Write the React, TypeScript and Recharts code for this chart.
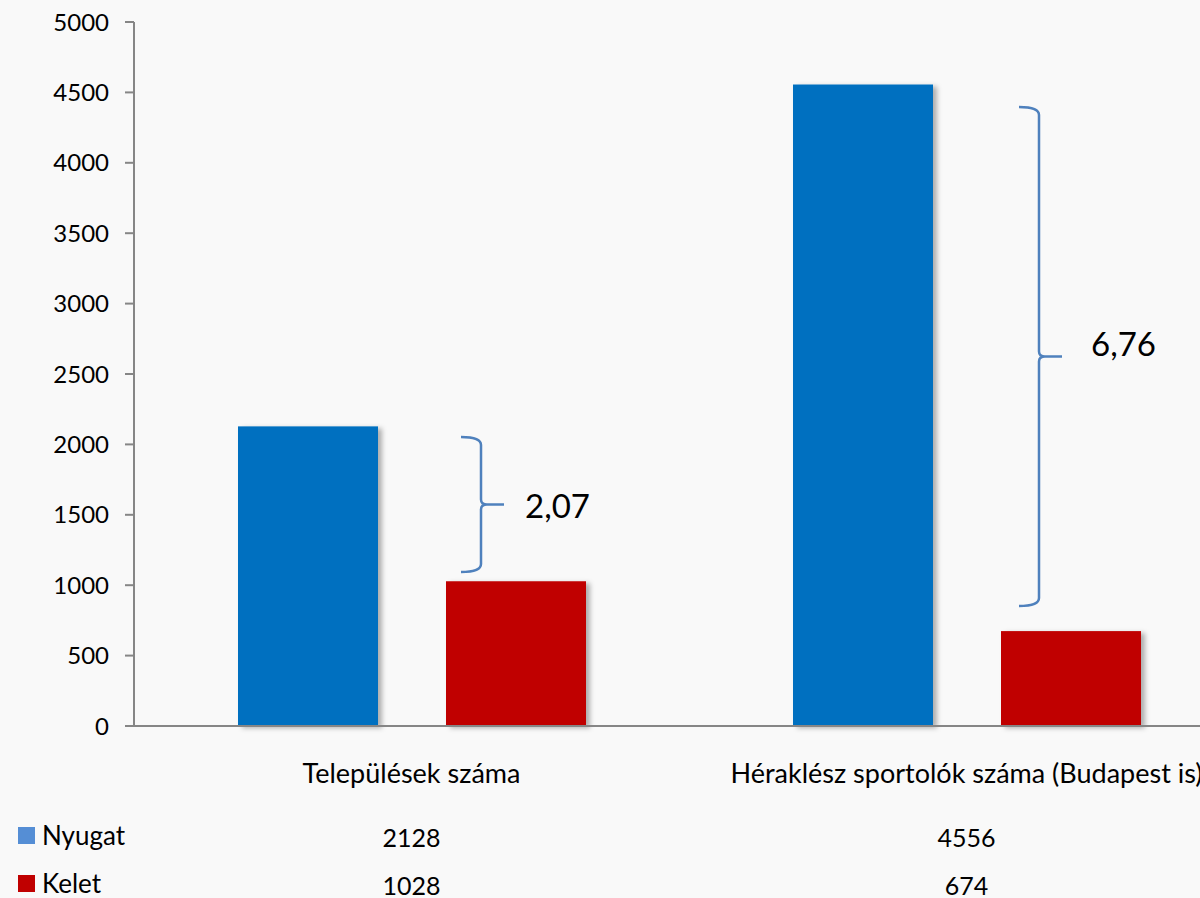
import { BarChart, Bar, XAxis, YAxis, ReferenceArea } from 'recharts'

const categories = ['Települések száma', 'Héraklész sportolók száma (Budapest is)']
const nyugat = [2128, 4556]
const kelet = [1028, 674]
const ratios = ['2,07', '6,76']
const braceLow = [1094, 852]
const braceHigh = [2052, 4396]
const yTicks = [0, 500, 1000, 1500, 2000, 2500, 3000, 3500, 4000, 4500, 5000]

const FONT = 'Lato, "Open Sans", sans-serif'
const BLUE = '#0070C0'
const RED = '#C00000'

const chartData = categories.map((name, i) => ({ name, Nyugat: nyugat[i], Kelet: kelet[i] }))

function CatTick(props: any) {
  const { x, y, payload, index } = props
  return (
    <g fontFamily={FONT} fill="#000">
      <text x={x} y={y + 46} fontSize={27} textAnchor="middle" dominantBaseline="central" fill="#000">{payload.value}</text>
      <text x={x} y={y + 111} fontSize={25} textAnchor="middle" dominantBaseline="central" fill="#000">{nyugat[index]}</text>
      <text x={x} y={y + 159} fontSize={25} textAnchor="middle" dominantBaseline="central" fill="#000">{kelet[index]}</text>
    </g>
  )
}

function Brace(props: any) {
  const { x, y, height, label, index } = props
  const x0 = x + 347 + index * 3
  const yt = y
  const yb = y + height
  const ym = (yt + yb) / 2
  const d = `M ${x0 - 20} ${yt} Q ${x0} ${yt} ${x0} ${yt + 8} L ${x0} ${ym - 5} Q ${x0} ${ym} ${x0 + 6} ${ym} L ${x0 + 23} ${ym} M ${x0 + 6} ${ym} Q ${x0} ${ym} ${x0} ${ym + 5} L ${x0} ${yb - 8} Q ${x0} ${yb} ${x0 - 20} ${yb}`
  return (
    <g>
      <path d={d} fill="none" stroke="#4F81BD" strokeWidth={2.5} />
      <text x={x0 + 44 + index * 8} y={ym - index * 14} dominantBaseline="central" fontFamily={FONT} fontSize={33} fill="#000">{label}</text>
    </g>
  )
}

const ShadowBar = (props: any) => {
  const { x, y, width, height, fill } = props
  return <rect x={x} y={y} width={width} height={height} fill={fill} filter="url(#barShadow)" />
}

const legendRow = { position: 'absolute' as const, left: 18, display: 'flex', alignItems: 'center', height: 17, lineHeight: '17px', fontFamily: FONT, fontSize: 26 }

export default function App() {
  return (
    <div style={{ position: 'absolute', left: 0, top: 0, width: 1200, height: 898, overflow: 'hidden', background: '#f9f9f9' }}>
      <svg width={0} height={0} style={{ position: 'absolute' }}>
        <defs>
          <filter id="barShadow" x="-10%" y="-10%" width="130%" height="120%">
            <feDropShadow dx={4} dy={2} stdDeviation={2.5} floodColor="#000" floodOpacity={0.3} />
          </filter>
        </defs>
      </svg>
      <BarChart width={1260} height={898} data={chartData} barSize={140} barGap={68}
        margin={{ top: 22, right: 16, left: 0, bottom: 0 }}>
        <XAxis dataKey="name" height={172} tickLine={false} tickSize={0} tickMargin={0}
          axisLine={{ stroke: '#868686', strokeWidth: 2 }} tick={(p: any) => <CatTick {...p} />} interval={0} />
        <YAxis width={134} domain={[0, 5000]} ticks={yTicks} tickSize={9} tickMargin={16}
          axisLine={{ stroke: '#868686', strokeWidth: 2 }} tickLine={{ stroke: '#868686', strokeWidth: 2 }}
          tick={{ fontFamily: FONT, fontSize: 24, fill: '#000' }} />
        <Bar dataKey="Nyugat" fill={BLUE} shape={ShadowBar} isAnimationActive={false} />
        <Bar dataKey="Kelet" fill={RED} shape={ShadowBar} isAnimationActive={false} />
        {categories.map((c, i) => (
          <ReferenceArea key={c} x1={c} x2={c} y1={braceLow[i]} y2={braceHigh[i]}
            shape={(p: any) => <Brace {...p} label={ratios[i]} index={i} />} />
        ))}
      </BarChart>
      <div style={{ ...legendRow, top: 827 }}>
        <span style={{ width: 17, height: 17, background: '#558ED5', display: 'inline-block', marginRight: 7 }} />
        Nyugat
      </div>
      <div style={{ ...legendRow, top: 875 }}>
        <span style={{ width: 17, height: 17, background: RED, display: 'inline-block', marginRight: 7 }} />
        Kelet
      </div>
    </div>
  )
}
